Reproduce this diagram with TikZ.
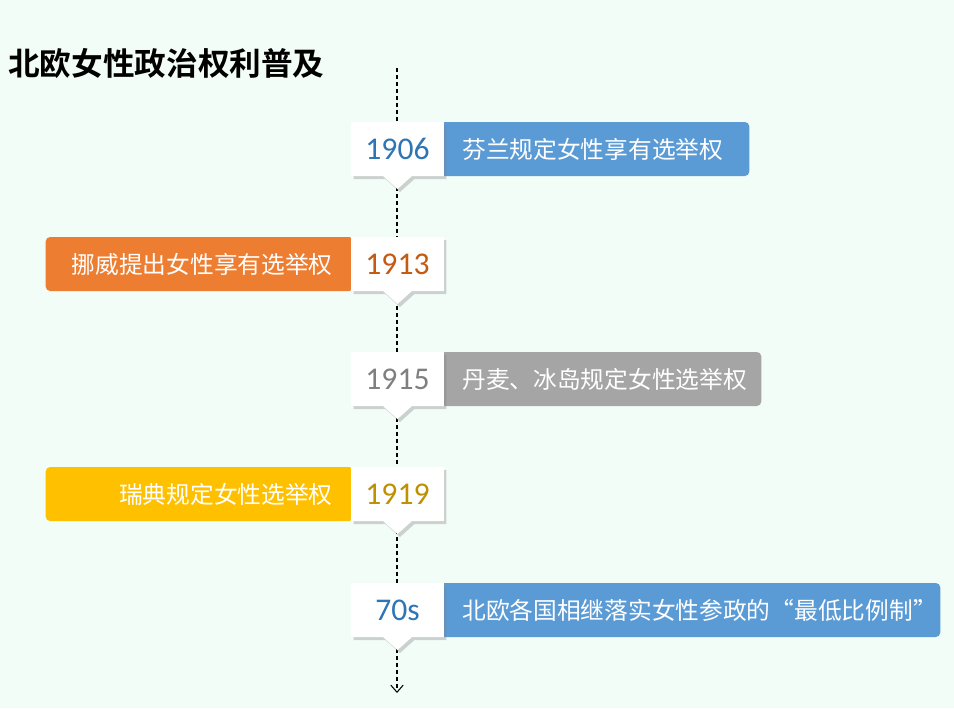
\documentclass[tikz,border=0pt]{standalone}
\usepackage{fontspec}
\setmainfont{Carlito}
\newfontfamily\cjk[BoldFont=* Bold]{Noto Sans CJK SC}
\usetikzlibrary{shapes.callouts,shadows,arrows.meta}
\definecolor{bgmint}{HTML}{F3FDF8}
\definecolor{barblue}{HTML}{5B9BD5}
\definecolor{barorange}{HTML}{ED7D31}
\definecolor{bargray}{HTML}{A5A5A5}
\definecolor{bargold}{HTML}{FFC000}
\definecolor{yrblue}{HTML}{2E75B6}
\definecolor{yrorange}{HTML}{C55A11}
\definecolor{yrgray}{HTML}{7F7F7F}
\definecolor{yrgold}{HTML}{BF9000}
\tikzset{
  year/.style={rectangle callout, fill=white, inner sep=0pt,
    minimum width=1.86cm, minimum height=1.08cm,
    callout pointer width=0.58cm,
    drop shadow={shadow xshift=0.05cm, shadow yshift=-0.06cm, opacity=0.35},
    font=\fontsize{18}{18}\selectfont},
  bar/.style={rounded corners=2.5pt, inner ysep=0pt, minimum height=1.08cm,
    text=white, font=\cjk\fontsize{13.5}{14}\selectfont},
  barright/.style={bar, anchor=west, inner xsep=0.44cm, align=left},
  barleft/.style={bar, anchor=east, inner xsep=0.42cm, align=right, text width=5.32cm},
}
\begin{document}
\begin{tikzpicture}[x=0.02cm, y=-0.02cm]
      \fill[bgmint] (0,0) rectangle (954,708);
      \useasboundingbox (0,0) rectangle (954,708);
      \node[anchor=west, inner sep=0pt, font=\cjk\bfseries\fontsize{18}{18}\selectfont]
        (title) at (8,63) {北欧女性政治权利普及};
      \coordinate (top) at (397,68);
      \coordinate (bottom) at (397,693);
      \draw[-{Straight Barb[length=4pt,width=7pt]}, line width=0.6pt,
        dash pattern=on 0.08cm off 0.06cm] (top) -- (bottom);
      % bars
      \node[barright, fill=barblue, text width=5.30cm] (b1906) at (440,149) {芬兰规定女性享有选举权};
      \node[barleft, fill=barorange] (b1913) at (354,264) {挪威提出女性享有选举权};
      \node[barright, fill=bargray, text width=5.54cm] (b1915) at (440,379) {丹麦、冰岛规定女性选举权};
      \node[barleft, fill=bargold] (b1919) at (354,494) {瑞典规定女性选举权};
      \node[barright, fill=barblue, text width=9.12cm] (b70s) at (440,610) {北欧各国相继落实女性参政的“最低比例制”};
      % years
      \node[year, text=yrblue, callout absolute pointer={(397.5,189)}] (y1906) at (397.5,149) {1906};
      \node[year, text=yrorange, callout absolute pointer={(397.5,304)}] (y1913) at (397.5,264) {1913};
      \node[year, text=yrgray, callout absolute pointer={(397.5,419)}] (y1915) at (397.5,379) {1915};
      \node[year, text=yrgold, callout absolute pointer={(397.5,534)}] (y1919) at (397.5,494) {1919};
      \node[year, text=yrblue, callout absolute pointer={(397.5,650)}] (y70s) at (397.5,610) {70s};
    \end{tikzpicture}
\end{document}
